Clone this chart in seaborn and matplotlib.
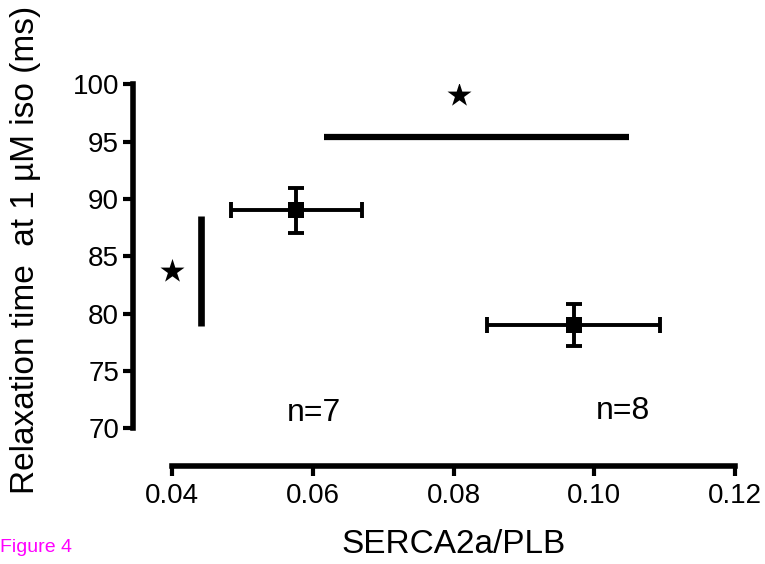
import numpy as np
import pandas as pd
import matplotlib
matplotlib.use("Agg")
import matplotlib.pyplot as plt
import seaborn as sns

# средние значения и ошибки по двум группам
ratio_mean = [0.0576, 0.0971]
ratio_err = [0.0093, 0.0123]
relax_mean = [89.0, 79.0]
relax_err = [1.95, 1.82]
group_n = ["n=7", "n=8"]
n_label_x = [0.0601, 0.1041]
n_label_y = [71.3, 71.5]

# линии значимости и звездочки
hbar_x = [0.0615, 0.1049]
hbar_y = [95.4, 95.4]
vbar_x = [0.0441, 0.0441]
vbar_y = [78.9, 88.55]
star_x = [0.0808, 0.0399]
star_y = [99.1, 83.7]

x_ticks = [0.04, 0.06, 0.08, 0.10, 0.12]
y_ticks = [70, 75, 80, 85, 90, 95, 100]

sns.set_style("ticks")
plt.rcParams['font.family'] = ['Liberation Sans', 'DejaVu Sans']
plt.rcParams['text.color'] = 'black'
plt.rcParams['axes.labelcolor'] = 'black'
plt.rcParams['xtick.color'] = 'black'
plt.rcParams['ytick.color'] = 'black'

fig = plt.figure(figsize=(7.65, 5.64), dpi=100)
ax = fig.add_axes([133 / 765, (564 - 466) / 564, (735 - 133) / 765, (466 - 84.3) / 564])

df = pd.DataFrame({'x': ratio_mean, 'y': relax_mean})
ax.errorbar(ratio_mean, relax_mean, xerr=ratio_err, yerr=relax_err, fmt='none',
            ecolor='black', elinewidth=2.8, capsize=5.5, capthick=2.8, zorder=2)
sns.scatterplot(data=df, x='x', y='y', marker='s', s=144, color='black',
                edgecolor='black', linewidth=0, ax=ax, zorder=3)

ax.plot(hbar_x, hbar_y, color='black', lw=4.5, solid_capstyle='butt')
ax.plot(vbar_x, vbar_y, color='black', lw=4.8, solid_capstyle='butt')
ax.scatter(star_x, star_y, marker='*', s=330, color='black', linewidths=0)

for tx, ty, t in zip(n_label_x, n_label_y, group_n):
    ax.text(tx, ty, t, ha='center', va='center', fontsize=23)

ax.set_xlim(0.0344, 0.12)
ax.set_ylim(66.7, 100)
ax.set_xticks(x_ticks)
ax.set_xticklabels(['0.04', '0.06', '0.08', '0.10', '0.12'])
ax.set_yticks(y_ticks)
ax.spines['left'].set_bounds(70, 100)
ax.spines['bottom'].set_bounds(0.04, 0.12)
sns.despine(ax=ax)
for s in ['left', 'bottom']:
    ax.spines[s].set_linewidth(4)
    ax.spines[s].set_color('black')
ax.tick_params(axis='both', direction='out', length=7, width=3, labelsize=20)
ax.tick_params(axis='x', pad=5)
ax.tick_params(axis='y', pad=3)

ax.set_xlabel('SERCA2a/PLB', fontsize=24)
ax.set_ylabel('Relaxation time  at 1 µM iso (ms)', fontsize=24)
ax.xaxis.set_label_coords(0.533, -0.165)
ax.yaxis.set_label_coords(-0.152, 0.566)
ax.patch.set_alpha(0)

fig.text(0.0, (564 - 547) / 564, 'Figure 4', color='#ff00ff', fontsize=14, va='center', ha='left')

plt.savefig('out.png', dpi=100)
